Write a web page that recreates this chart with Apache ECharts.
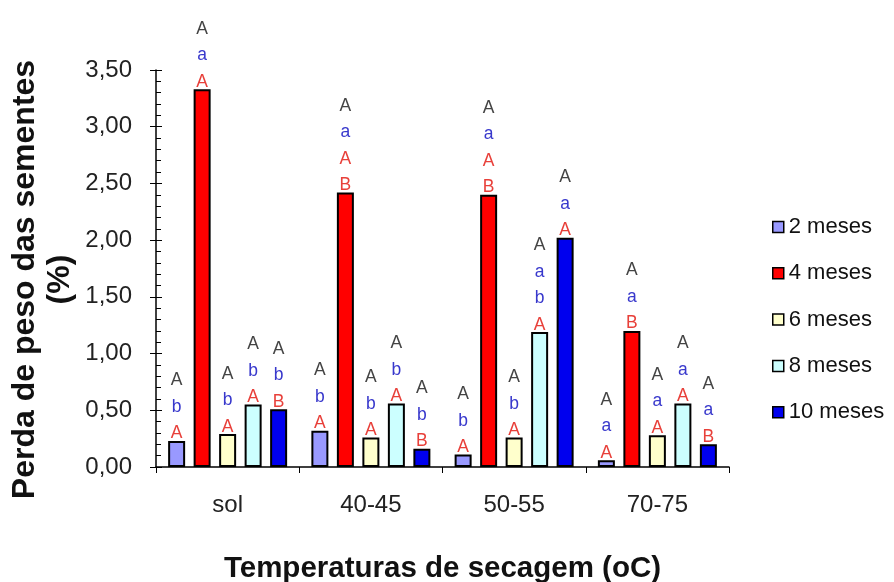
<!DOCTYPE html>
<html>
<head>
<meta charset="utf-8">
<script src="https://cdn.jsdelivr.net/npm/echarts@6/dist/echarts.min.js"></script>
<style>
html,body{margin:0;padding:0;background:#fff;}
#chart{width:894px;height:582px;}
</style>
</head>
<body>
<div id="chart"></div>
<script>
// Categories (drying temperatures)
const categories = ['sol', '40-45', '50-55', '70-75'];
// Series names
const seriesNames = ['2 meses', '4 meses', '6 meses', '8 meses', '10 meses'];
// Values (% weight loss) per storage period
const v2  = [0.23, 0.32, 0.11, 0.06];
const v4  = [3.33, 2.42, 2.40, 1.20];
const v6  = [0.29, 0.26, 0.26, 0.28];
const v8  = [0.55, 0.56, 1.19, 0.56];
const v10 = [0.51, 0.16, 2.02, 0.20];
// Significance letters above each bar (top to bottom)
const l2  = ['AbA', 'AbA', 'AbA', 'AaA'];
const l4  = ['AaA', 'AaAB', 'AaAB', 'AaB'];
const l6  = ['AbA', 'AbA', 'AbA', 'AaA'];
const l8  = ['AbA', 'AbA', 'AabA', 'AaA'];
const l10 = ['AbB', 'AbB', 'AaA', 'AaB'];
// Y tick settings
const yMin = 0, yMax = 3.5, yStep = 0.5;

const colors = ['#9999ff', '#ff0000', '#ffffcc', '#ccffff', '#0000ee'];
const values = [v2, v4, v6, v8, v10];
const letters = [l2, l4, l6, l8, l10];

const FONT = '"Liberation Sans", Arial, sans-serif';

function fmtLetters(s) {
  const out = [];
  for (let i = 0; i < s.length; i++) {
    const c = s[i];
    let st;
    if (i === 0) st = 'g';
    else if (c === c.toLowerCase()) st = 'b';
    else st = 'r';
    out.push('{' + st + '|' + c + '}');
  }
  return out.join('\n');
}

const richBase = {fontSize: 17.5, lineHeight: 26.5, fontFamily: FONT};
const series = seriesNames.map((name, si) => ({
  name: name,
  type: 'bar',
  yAxisIndex: 0,
  barWidth: 17,
  barGap: '50%',
  data: values[si],
  itemStyle: {color: colors[si], borderColor: '#000', borderWidth: 2},
  label: {
    show: true,
    position: 'top',
    distance: -6,
    align: 'center',
    formatter: (p) => fmtLetters(letters[si][p.dataIndex]),
    rich: {
      g: Object.assign({color: '#444'}, richBase),
      b: Object.assign({color: '#3838cc'}, richBase),
      r: Object.assign({color: '#e8403a'}, richBase)
    }
  }
}));

const chart = echarts.init(document.getElementById('chart'), null, {renderer: 'canvas'});
chart.setOption({
  backgroundColor: '#ffffff',
  animation: false,
  textStyle: {fontFamily: FONT},
  grid: {left: 156, right: 165, top: 70, bottom: 115, containLabel: false, outerBoundsMode: 'none'},
  legend: {
    orient: 'vertical',
    left: 767,
    top: 211,
    itemWidth: 11,
    itemHeight: 11,
    itemGap: 24.3,
    icon: 'rect',
    itemStyle: {borderColor: '#000', borderWidth: 1.5},
    textStyle: {fontSize: 22, color: '#111', fontFamily: FONT},
    data: seriesNames
  },
  xAxis: {
    type: 'category',
    data: categories,
    axisLine: {lineStyle: {color: '#000', width: 1.5}},
    axisTick: {show: true, length: 6, lineStyle: {color: '#000'}},
    axisLabel: {fontSize: 24, color: '#222', margin: 26, fontFamily: FONT},
    name: 'Temperaturas de secagem (oC)',
    nameLocation: 'middle',
    nameGap: 87,
    nameMoveOverlap: false,
    nameTextStyle: {fontSize: 29.5, fontWeight: 'bold', color: '#111', fontFamily: FONT}
  },
  yAxis: [{
    type: 'value',
    min: yMin, max: yMax, interval: yStep,
    axisLine: {show: true, lineStyle: {color: '#000', width: 1.5}},
    axisTick: {show: true, inside: true, length: 6, lineStyle: {color: '#000'}},
    minorTick: {show: true, splitNumber: 5, length: 5, lineStyle: {color: '#000'}},
    splitLine: {show: false},
    axisLabel: {fontSize: 24, color: '#222', margin: 24, fontFamily: FONT,
      formatter: (v) => v.toFixed(2).replace('.', ',')},
    name: 'Perda de peso das sementes\n(%)',
    nameLocation: 'middle',
    nameRotate: 90,
    nameGap: 78,
    nameMoveOverlap: false,
    nameTextStyle: {fontSize: 32, fontWeight: 'bold', color: '#111', lineHeight: 35,
      fontFamily: FONT, padding: [0, 22, 0, 0]}
  }, {
    type: 'value',
    position: 'left',
    min: yMin, max: yMax, interval: yStep,
    axisLine: {show: false},
    axisTick: {show: true, inside: false, length: 6, lineStyle: {color: '#000'}},
    axisLabel: {show: false},
    splitLine: {show: false}
  }],
  series: series
});
</script>
</body>
</html>
